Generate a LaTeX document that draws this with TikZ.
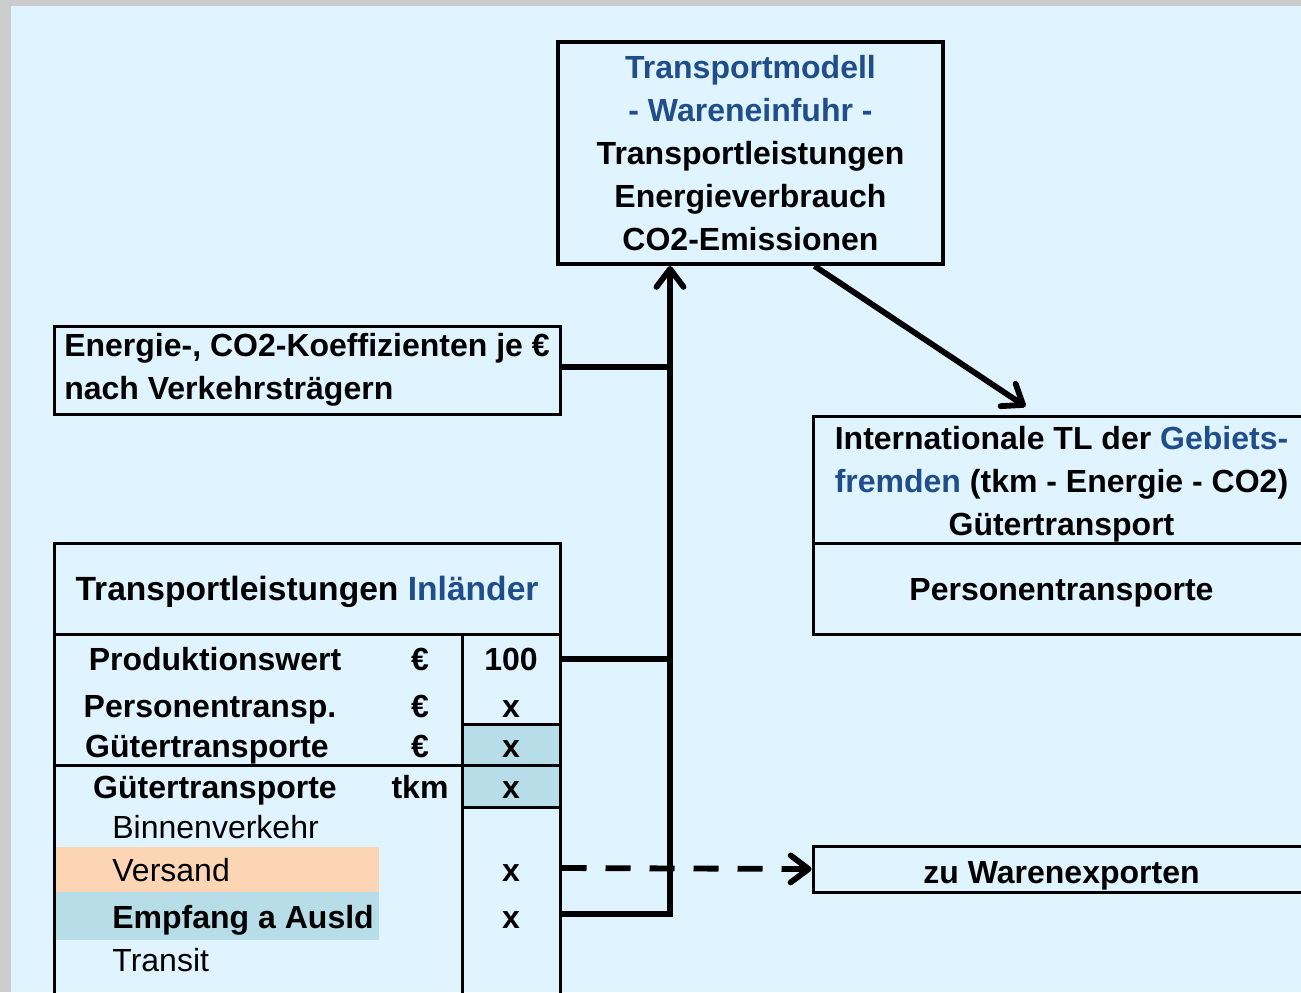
\documentclass[tikz,border=0pt]{standalone}
\usepackage{fontspec}
\setmainfont{Liberation Sans}
\usepackage{tikz}
\usetikzlibrary{arrows.meta}
\definecolor{paneblue}{HTML}{E0F4FF}
\definecolor{framegray}{HTML}{CCCCCC}
\definecolor{titleblue}{HTML}{1F4E8A}
\definecolor{cellblue}{HTML}{B7DEE8}
\definecolor{cellpeach}{HTML}{FCD5B4}
\tikzset{box/.style={rectangle, draw=black, line width=1.5pt, inner sep=0pt},
bold/.style={font=\fontsize{16pt}{21.5pt}\selectfont\bfseries, inner sep=0pt},
plain/.style={font=\fontsize{16pt}{21.5pt}\selectfont, inner sep=0pt},
oneline/.style={text height=11.5pt, text depth=0pt},
rule/.style={line width=1.5pt},
flow/.style={line width=2.9pt},
barb/.tip={Straight Barb[length=9pt, width=13.5pt, line cap=round, line join=round]}
}

\begin{document}
\begin{tikzpicture}[x=0.5pt, y=-0.5pt]
\useasboundingbox (0,0) rectangle (1301,992);
\clip (0,0) rectangle (1301,992);

%%Background
\fill[framegray] (0,0) rectangle (1301,992);
\fill[paneblue] (11,6) rectangle (1301,992);

%%Shaded cells
\fill[cellblue] (462,724) rectangle (560,807);
\fill[cellpeach] (56,847) rectangle (379,892);
\fill[cellblue] (56,892) rectangle (379,940);

%%% Transportmodell
\node[box, bold, line width=2pt, align=center, minimum width=192.5pt, minimum height=111pt] (modell) at (750.5,153) {\textcolor{titleblue}{Transportmodell}\\ \textcolor{titleblue}{- Wareneinfuhr -}\\ Transportleistungen\\ Energieverbrauch\\ CO2-Emissionen};

%%% Koeffizienten
\node[box, bold, align=left, minimum width=253pt, minimum height=44pt] (koeff) at (307,370) {Energie-, CO2-Koeffizienten je €\\ nach Verkehrsträgern};

%%% Gebietsfremde
\node[box, minimum width=248.5pt, minimum height=63.5pt] (intl) at (1061.5,479.5) {};
\node[bold, align=center] (intltext) at (1061.5,484) {Internationale TL der \textcolor{titleblue}{Gebiets-}\\ \textcolor{titleblue}{fremden} (tkm - Energie - CO2)\\ Gütertransport};
\node[box, bold, oneline, minimum width=248.5pt, minimum height=45.5pt] (pers) at (1061.5,588.5) {Personentransporte};

%%% Warenexporte
\node[box, bold, text height=14pt, text depth=0pt, minimum width=248.5pt, minimum height=23pt] (export) at (1061.5,869) {zu Warenexporten};

%%% Tabelle Inlaender
\node[box, bold, oneline, font=\fontsize{16.8pt}{21.5pt}\selectfont\bfseries, minimum width=253pt, minimum height=45.5pt] (head) at (307,588.5) {Transportleistungen \textcolor{titleblue}{Inländer}};
\node[box, minimum width=253pt, minimum height=183pt] (tab) at (307,817) {};

\draw[rule] (462,634) -- (462,1000);
\draw[rule] (54,765) -- (560,765);
\draw[rule] (462,724) -- (560,724);
\draw[rule] (462,807) -- (560,807);

\begin{scope}[every node/.style={bold, oneline}]
\foreach \i/\x/\y/\txt/\unit/\val in {1/215/659/Produktionswert/€/100, 2/210/705.5/Personentransp./€/x, 3/207/745.5/Gütertransporte/€/x, 4/215/786.5/Gütertransporte/tkm/x} {
    \node (row\i) at (\x,\y) {\txt};
    \node (unit\i) at (420,\y) {\unit};
    \node (val\i) at (511,\y) {\val};
}
\node (val6) at (511,870) {x};
\node (val7) at (511,916.5) {x};
\end{scope}

\begin{scope}[every node/.style={oneline, anchor=west}]
\node[plain] (row5) at (112,826.5) {Binnenverkehr};
\node[plain] (row6) at (112,870) {Versand};
\node[bold] (row7) at (112,916.5) {Empfang a Ausld};
\node[plain] (row8) at (112,960) {Transit};
\end{scope}

%%% Verbindungen
\coordinate (bend) at (670,914);
\draw[flow, -barb] (val7 -| tab.east) ++(0,-2.5) -- (bend) -- (bend |- modell.south);
\draw[flow] (val1 -| tab.east) -- (val1 -| bend);
\draw[flow] ([yshift=1.5pt]koeff.east) -- ([yshift=1.5pt]koeff.east -| bend);
\draw[flow, -barb] ([xshift=32pt]modell.south) -- ([xshift=-18pt, yshift=4pt]intl.north);
\draw[flow, dash pattern=on 12.5pt off 9.5pt, -barb] (val6 -| tab.east) ++(0,-2) -- (export.west);

\end{tikzpicture}
\end{document}
